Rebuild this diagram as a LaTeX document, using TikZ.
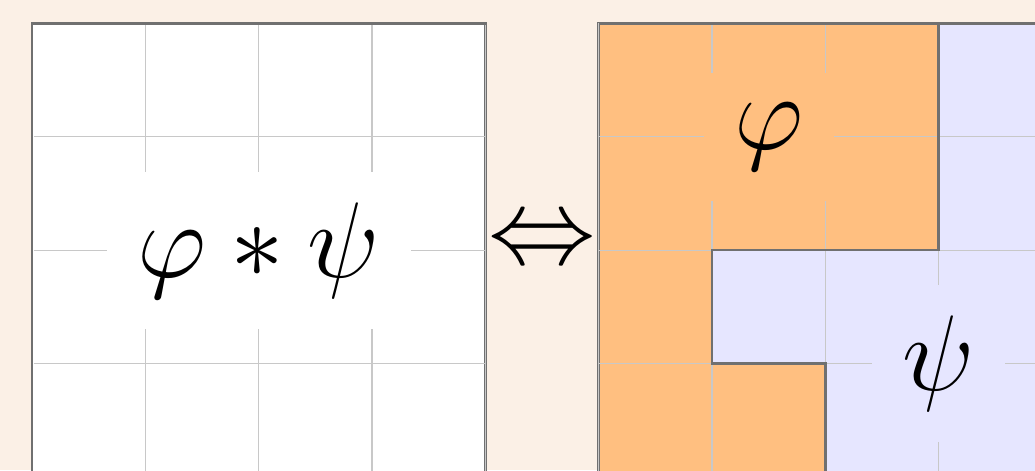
\RequirePackage{fix-cm}
\documentclass[tikz,border=0pt]{standalone}
\usepackage{tikz}
\definecolor{bgbeige}{HTML}{FBF0E6}
\definecolor{orangefill}{HTML}{FFBF80}
\definecolor{lavfill}{HTML}{E6E6FF}
\definecolor{gridgray}{HTML}{C8C8C8}
\definecolor{bordergray}{HTML}{707070}
\tikzset{
  gridline/.style={draw=gridgray, line width=0.3pt},
  boxborder/.style={draw=bordergray, line width=0.65pt},
  biglabel/.style={inner sep=0.27cm, font=\fontsize{27}{32}\selectfont},
}
\begin{document}
\begin{tikzpicture}
\useasboundingbox[fill=bgbeige] (-0.2824,-3.940) rectangle (8.850,0.2074);
\begin{scope}
\clip (-0.2824,-3.940) rectangle (8.850,0.2074);
% left box
\fill[white] (0,0) rectangle (4,-4);
\draw[boxborder] (0,0) rectangle (4,-4);
\draw[gridline] (0.5pt,-4) grid (4,-0.5pt);
% right box fills
\fill[orangefill] (5,0) -- (8,0) -- (8,-2) -- (6,-2) -- (6,-3) -- (7,-3) -- (7,-4) -- (5,-4) -- cycle;
\fill[lavfill] (8,0) -- (9,0) -- (9,-4) -- (7,-4) -- (7,-3) -- (6,-3) -- (6,-2) -- (8,-2) -- cycle;
\draw[boxborder] (5,0) rectangle (9,-4);
\draw[gridline] (5,-4) grid (9,0);
\draw[boxborder] (8,0) -- (8,-2) -- (6,-2) -- (6,-3) -- (7,-3) -- (7,-4);
\draw[boxborder] (5,0) -- (9,0);
% labels
\node[biglabel, fill=white] (conv) at (2,-2) {$\varphi * \psi$};
\node[biglabel, fill=orangefill] (phi) at (6.5,-1) {$\varphi$};
\node[biglabel, fill=lavfill] (psi) at (8,-3) {$\psi$};
\node[font=\fontsize{27}{32}\selectfont, inner sep=0pt] (equiv) at (4.5,-1.94) {$\Leftrightarrow$};
\end{scope}
\end{tikzpicture}
\end{document}
